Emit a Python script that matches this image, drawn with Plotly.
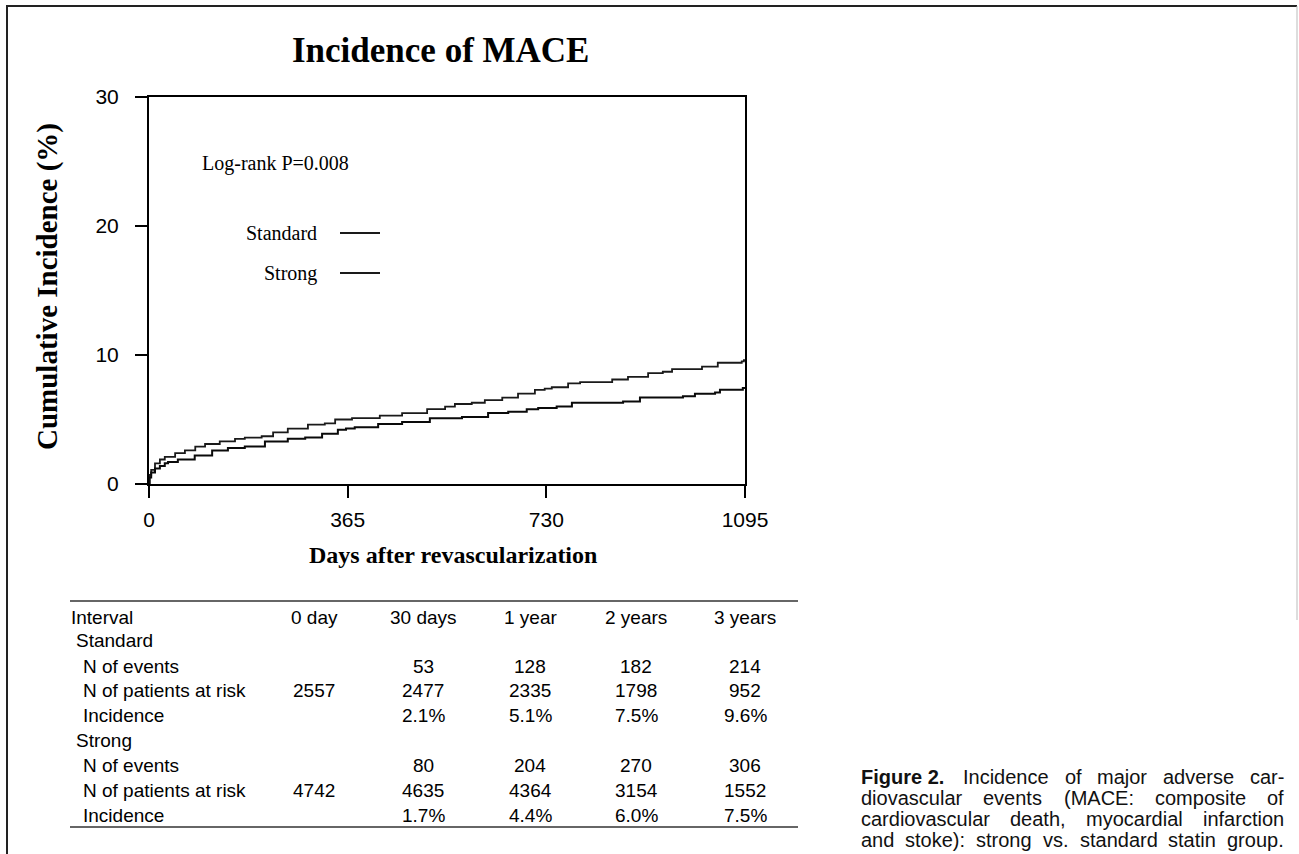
import plotly.graph_objects as go

# ---------------- data ----------------
standard_days = [0, 1, 4, 11, 20, 29, 48, 66, 85, 103, 130, 158, 176, 207, 228, 255, 292, 323, 342, 373,
                 424, 465, 511, 544, 562, 593, 617, 649, 678, 709, 727, 740, 770, 792, 851, 880, 917,
                 944, 961, 1016, 1045, 1089, 1093, 1095]
standard_inc = [0.0, 0.7, 1.1, 1.6, 1.9, 2.1, 2.4, 2.6, 2.9, 3.1, 3.3, 3.5, 3.6, 3.7, 4.0, 4.3, 4.6, 4.7, 5.0, 5.1,
                5.3, 5.5, 5.8, 6.0, 6.2, 6.3, 6.5, 6.7, 7.0, 7.3, 7.4, 7.5, 7.8, 7.9, 8.1, 8.3, 8.6,
                8.7, 8.9, 9.1, 9.4, 9.5, 9.6, 9.6]

strong_days = [0, 1, 4, 11, 20, 29, 35, 53, 84, 116, 145, 176, 213, 255, 287, 318, 347, 362, 378, 421,
               465, 516, 575, 623, 660, 694, 715, 749, 777, 871, 902, 981, 1003, 1040, 1049, 1091, 1095]
strong_inc = [0.0, 0.5, 0.9, 1.2, 1.4, 1.6, 1.7, 1.9, 2.2, 2.6, 2.8, 2.9, 3.3, 3.5, 3.6, 3.9, 4.2, 4.3, 4.4, 4.65,
              4.8, 5.1, 5.2, 5.5, 5.6, 5.8, 5.9, 6.0, 6.3, 6.4, 6.7, 6.8, 7.0, 7.1, 7.3, 7.45, 7.5]

x_ticks = [0, 365, 730, 1095]
y_ticks = [0, 10, 20, 30]

table_header = ["Interval", "0 day", "30 days", "1 year", "2 years", "3 years"]
table_rows = [
    ("Standard", 0, ["", "", "", "", ""]),
    ("N of events", 1, ["", "53", "128", "182", "214"]),
    ("N of patients at risk", 1, ["2557", "2477", "2335", "1798", "952"]),
    ("Incidence", 1, ["", "2.1%", "5.1%", "7.5%", "9.6%"]),
    ("Strong", 0, ["", "", "", "", ""]),
    ("N of events", 1, ["", "80", "204", "270", "306"]),
    ("N of patients at risk", 1, ["4742", "4635", "4364", "3154", "1552"]),
    ("Incidence", 1, ["", "1.7%", "4.4%", "6.0%", "7.5%"]),
]

caption_label = "Figure 2."
caption_lines = [
    "Incidence of major adverse car-",
    "diovascular events (MACE: composite of",
    "cardiovascular death, myocardial infarction",
    "and stoke): strong vs. standard statin group.",
]

# ---------------- layout helpers (pixel -> paper) ----------------
W, H = 1299, 854
L, R, T, B = 149, 745, 97, 484


def px(x):
    return (x - L) / (R - L)


def py(y):
    return (B - y) / (B - T)


SERIF = "Liberation Serif, Times New Roman, serif"
SANS = "Liberation Sans, Arial, sans-serif"

# Arial / Liberation Sans advance widths (per 1000 em), used only to justify caption words
_REG = {" ": 278, "a": 556, "b": 556, "c": 500, "d": 556, "e": 556, "f": 278, "g": 556, "h": 556, "i": 222,
        "j": 222, "k": 500, "l": 222, "m": 833, "n": 556, "o": 556, "p": 556, "r": 333, "s": 500, "t": 278,
        "u": 556, "v": 500, "w": 722, "y": 500, "(": 333, ")": 333, ":": 278, ".": 278, ",": 278, "-": 333,
        "I": 278, "M": 833, "A": 667, "C": 722, "E": 667}
_BOLD = {"F": 611, "i": 278, "g": 611, "u": 611, "r": 389, "e": 556, " ": 278, "2": 556, ".": 278}


def text_w(s, size, bold=False):
    tbl = _BOLD if bold else _REG
    return sum(tbl.get(ch, 556) for ch in s) * size / 1000.0


fig = go.Figure()
fig.add_trace(go.Scatter(x=standard_days, y=standard_inc, mode="lines", line_shape="hv",
                         line=dict(color="#1a1a1a", width=1.8), name="Standard", showlegend=False))
fig.add_trace(go.Scatter(x=strong_days, y=strong_inc, mode="lines", line_shape="hv",
                         line=dict(color="#0a0a0a", width=2), name="Strong", showlegend=False))

ann = []
shapes = []


def note(x, y, text, font, xanchor="center", **kw):
    ann.append(dict(x=px(x), y=py(y), xref="paper", yref="paper", text=text, showarrow=False,
                    font=font, xanchor=xanchor, yanchor="middle", borderpad=0, **kw))


# titles
note(440, 51, "<b>Incidence of MACE</b>", dict(family=SERIF, size=35, color="black"))
note(47, 287, "<b>Cumulative Incidence (%)</b>", dict(family=SERIF, size=29, color="black"), textangle=-90)
note(453, 555, "<b>Days after revascularization</b>", dict(family=SERIF, size=24, color="black"))
note(201, 163, "Log-rank P=0.008", dict(family=SERIF, size=20, color="black"), xanchor="left")

# in-plot legend
for label, yy in [("Standard", 233), ("Strong", 273)]:
    note(318, yy, label, dict(family=SERIF, size=20, color="black"), xanchor="right")
    shapes.append(dict(type="line", xref="paper", yref="paper", x0=px(340), x1=px(380), y0=py(yy), y1=py(yy),
                       line=dict(color="#1a1a1a", width=1.8)))

# table
col_centers = [314, 423, 530, 636, 745]
row_y = [640, 666, 690, 715, 740, 765, 790, 815]
TFONT = dict(family=SANS, size=19, color="black")
note(70, 617, table_header[0], TFONT, xanchor="left")
for cx, h in zip(col_centers, table_header[1:]):
    note(cx, 617, h, TFONT)
for (label, indent, vals), ry in zip(table_rows, row_y):
    note(75 if indent == 0 else 82, ry, label, TFONT, xanchor="left")
    for cx, v in zip(col_centers, vals):
        if v:
            note(cx, ry, v, TFONT)
for ly in [601, 827]:
    shapes.append(dict(type="line", xref="paper", yref="paper", x0=px(70), x1=px(798), y0=py(ly), y1=py(ly),
                       line=dict(color="#333333", width=1.5)))

# caption (justified word by word between x=860 and x=1283)
CS = 20
CFONT = dict(family=SANS, size=CS, color="#111111")
CX0, CX1 = 860, 1283
for i, line in enumerate(caption_lines):
    yy = 777 + 21 * i
    x_start = CX0
    if i == 0:
        note(CX0, yy, "<b>" + caption_label + "</b>", CFONT, xanchor="left")
        x_start = CX0 + text_w(caption_label, CS, bold=True) + 19
    words = line.split(" ")
    widths = [text_w(w, CS) for w in words]
    gap = (CX1 - x_start - sum(widths)) / max(len(words) - 1, 1)
    gap = max(gap, text_w(" ", CS))
    xx = x_start
    for w, wd in zip(words, widths):
        note(xx, yy, w, CFONT, xanchor="left")
        xx += wd + gap

# page frame
shapes.append(dict(type="line", xref="paper", yref="paper", x0=px(7), x1=px(7), y0=py(5), y1=py(854),
                   line=dict(color="#222222", width=2)))
shapes.append(dict(type="line", xref="paper", yref="paper", x0=px(6), x1=px(1297), y0=py(6), y1=py(6),
                   line=dict(color="#222222", width=2)))
shapes.append(dict(type="line", xref="paper", yref="paper", x0=px(1297), x1=px(1297), y0=py(6), y1=py(620),
                   line=dict(color="#bbbbbb", width=1)))

fig.update_layout(
    width=W, height=H, autosize=False,
    margin=dict(l=L, r=W - R, t=T, b=H - B, pad=0),
    paper_bgcolor="white", plot_bgcolor="white",
    annotations=ann, shapes=shapes,
    xaxis=dict(range=[0, 1095], tickvals=x_ticks, ticktext=[str(v) for v in x_ticks],
               showgrid=False, zeroline=False, showline=True, linecolor="black", linewidth=2, mirror=True,
               ticks="outside", ticklen=12, tickwidth=2, tickcolor="black", ticklabelstandoff=4,
               tickfont=dict(family=SANS, size=21, color="black")),
    yaxis=dict(range=[0, 30], tickvals=y_ticks, ticktext=[str(v) for v in y_ticks],
               showgrid=False, zeroline=False, showline=True, linecolor="black", linewidth=2, mirror=True,
               ticks="outside", ticklen=12, tickwidth=2, tickcolor="black", ticklabelstandoff=12,
               tickfont=dict(family=SANS, size=21, color="black")),
)

fig.write_html("out.html")
